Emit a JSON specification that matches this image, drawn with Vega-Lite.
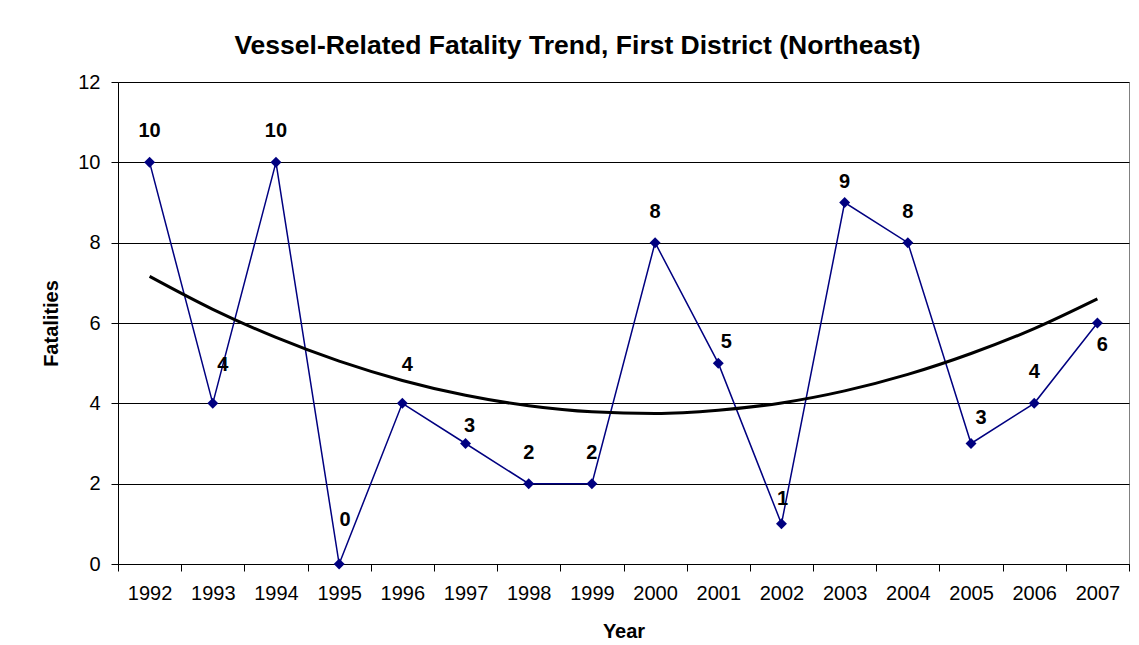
{
  "$schema": "https://vega.github.io/schema/vega-lite/v6.json",
  "width": 1011,
  "height": 482,
  "autosize": {"type": "none"},
  "padding": {"left": 118, "top": 82, "right": 10, "bottom": 81},
  "background": "white",
  "config": {
    "font": "Liberation Sans",
    "view": {"stroke": "#808080", "strokeWidth": 1}
  },
  "title": {
    "text": "Vessel-Related Fatality Trend, First District (Northeast)",
    "font": "Liberation Sans",
    "fontSize": 26.5,
    "fontWeight": "bold",
    "color": "black",
    "anchor": "middle",
    "dx": -46,
    "dy": 36,
    "baseline": "alphabetic",
    "offset": 28
  },
  "data": {
    "values": [
      {"year": "1992", "fatalities": 10, "trend": 7.16},
      {"year": "1993", "fatalities": 4, "trend": 6.34},
      {"year": "1994", "fatalities": 10, "trend": 5.64},
      {"year": "1995", "fatalities": 0, "trend": 5.05},
      {"year": "1996", "fatalities": 4, "trend": 4.57},
      {"year": "1997", "fatalities": 3, "trend": 4.2},
      {"year": "1998", "fatalities": 2, "trend": 3.94},
      {"year": "1999", "fatalities": 2, "trend": 3.79},
      {"year": "2000", "fatalities": 8, "trend": 3.75},
      {"year": "2001", "fatalities": 5, "trend": 3.83},
      {"year": "2002", "fatalities": 1, "trend": 4.01},
      {"year": "2003", "fatalities": 9, "trend": 4.31},
      {"year": "2004", "fatalities": 8, "trend": 4.72},
      {"year": "2005", "fatalities": 3, "trend": 5.24},
      {"year": "2006", "fatalities": 4, "trend": 5.86},
      {"year": "2007", "fatalities": 6, "trend": 6.6}
    ]
  },
  "encoding": {
    "x": {
      "field": "year",
      "type": "ordinal",
      "scale": {"type": "band", "paddingInner": 0, "paddingOuter": 0},
      "axis": {
        "title": "Year",
        "titleFont": "Liberation Sans",
        "titleFontSize": 20,
        "titleFontWeight": "bold",
        "titleColor": "black",
        "titlePadding": 18,
        "labelAngle": 0,
        "labelFontSize": 20,
        "labelColor": "black",
        "labelPadding": 12,
        "tickBand": "extent",
        "tickSize": 7,
        "tickColor": "black",
        "domainColor": "black",
        "grid": false
      }
    }
  },
  "layer": [
    {
      "mark": {"type": "line", "color": "#000080", "strokeWidth": 1.5},
      "encoding": {
        "y": {
          "field": "fatalities",
          "type": "quantitative",
          "scale": {"domain": [0, 12], "nice": false},
          "axis": {
            "title": "Fatalities",
            "titleFont": "Liberation Sans",
            "titleFontSize": 20,
            "titleFontWeight": "bold",
            "titleColor": "black",
            "titlePadding": 16,
            "values": [0, 2, 4, 6, 8, 10, 12],
            "labelFontSize": 20,
            "labelColor": "black",
            "labelPadding": 11,
            "tickSize": 7,
            "tickColor": "black",
            "domainColor": "black",
            "grid": true,
            "gridColor": "black",
            "gridOpacity": 1,
            "gridWidth": 1
          }
        }
      }
    },
    {
      "mark": {"type": "point", "shape": "diamond", "filled": true, "color": "#000080", "opacity": 1, "size": 120},
      "encoding": {"y": {"field": "fatalities", "type": "quantitative"}}
    },
    {
      "mark": {"type": "line", "color": "black", "strokeWidth": 3, "interpolate": "monotone"},
      "encoding": {"y": {"field": "trend", "type": "quantitative"}}
    },
    {
      "transform": [{"filter": {"field": "year", "oneOf": ["1992", "1994", "1998", "1999", "2000", "2004", "2006"]}}],
      "mark": {"type": "text", "fontSize": 20, "fontWeight": "bold", "color": "black", "baseline": "middle", "dx": 0, "dy": -31},
      "encoding": {"y": {"field": "fatalities", "type": "quantitative"}, "text": {"field": "fatalities"}}
    },
    {
      "transform": [{"filter": {"field": "year", "equal": "1993"}}],
      "mark": {"type": "text", "fontSize": 20, "fontWeight": "bold", "color": "black", "baseline": "middle", "dx": 10, "dy": -38},
      "encoding": {"y": {"field": "fatalities", "type": "quantitative"}, "text": {"field": "fatalities"}}
    },
    {
      "transform": [{"filter": {"field": "year", "equal": "1996"}}],
      "mark": {"type": "text", "fontSize": 20, "fontWeight": "bold", "color": "black", "baseline": "middle", "dx": 5, "dy": -38},
      "encoding": {"y": {"field": "fatalities", "type": "quantitative"}, "text": {"field": "fatalities"}}
    },
    {
      "transform": [{"filter": {"field": "year", "equal": "1995"}}],
      "mark": {"type": "text", "fontSize": 20, "fontWeight": "bold", "color": "black", "baseline": "middle", "dx": 6, "dy": -44},
      "encoding": {"y": {"field": "fatalities", "type": "quantitative"}, "text": {"field": "fatalities"}}
    },
    {
      "transform": [{"filter": {"field": "year", "equal": "1997"}}],
      "mark": {"type": "text", "fontSize": 20, "fontWeight": "bold", "color": "black", "baseline": "middle", "dx": 4, "dy": -18},
      "encoding": {"y": {"field": "fatalities", "type": "quantitative"}, "text": {"field": "fatalities"}}
    },
    {
      "transform": [{"filter": {"field": "year", "equal": "2001"}}],
      "mark": {"type": "text", "fontSize": 20, "fontWeight": "bold", "color": "black", "baseline": "middle", "dx": 8, "dy": -21},
      "encoding": {"y": {"field": "fatalities", "type": "quantitative"}, "text": {"field": "fatalities"}}
    },
    {
      "transform": [{"filter": {"field": "year", "equal": "2002"}}],
      "mark": {"type": "text", "fontSize": 20, "fontWeight": "bold", "color": "black", "baseline": "middle", "dx": 1, "dy": -25},
      "encoding": {"y": {"field": "fatalities", "type": "quantitative"}, "text": {"field": "fatalities"}}
    },
    {
      "transform": [{"filter": {"field": "year", "equal": "2003"}}],
      "mark": {"type": "text", "fontSize": 20, "fontWeight": "bold", "color": "black", "baseline": "middle", "dx": 0, "dy": -21},
      "encoding": {"y": {"field": "fatalities", "type": "quantitative"}, "text": {"field": "fatalities"}}
    },
    {
      "transform": [{"filter": {"field": "year", "equal": "2005"}}],
      "mark": {"type": "text", "fontSize": 20, "fontWeight": "bold", "color": "black", "baseline": "middle", "dx": 10, "dy": -26},
      "encoding": {"y": {"field": "fatalities", "type": "quantitative"}, "text": {"field": "fatalities"}}
    },
    {
      "transform": [{"filter": {"field": "year", "equal": "2007"}}],
      "mark": {"type": "text", "fontSize": 20, "fontWeight": "bold", "color": "black", "baseline": "middle", "dx": 5, "dy": 22},
      "encoding": {"y": {"field": "fatalities", "type": "quantitative"}, "text": {"field": "fatalities"}}
    }
  ]
}
